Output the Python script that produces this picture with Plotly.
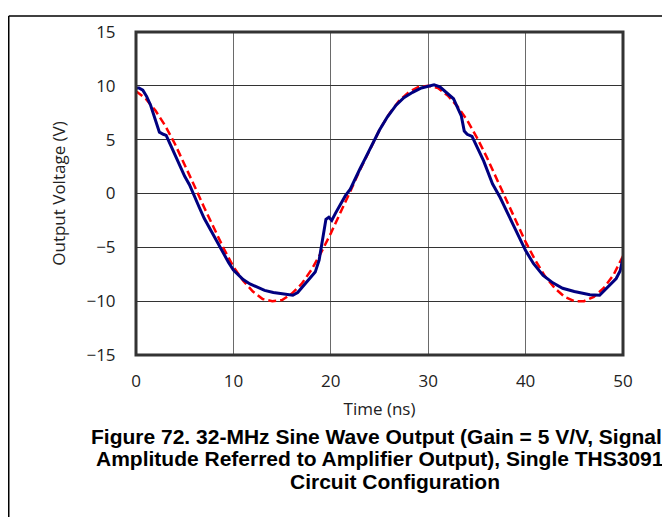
import plotly.graph_objects as go

# Ideal sine (red dashed)
t_ideal = list(range(0, 51))
v_ideal = [9.5, 8.8, 7.7, 6.3, 4.6, 2.7, 0.7, -1.3, -3.2, -5.1,
           -6.8, -8.1, -9.1, -9.8, -10.0, -9.9, -9.3, -8.4, -7.1, -5.5,
           -3.7, -1.8, 0.2, 2.2, 4.1, 5.9, 7.4, 8.6, 9.4, 9.9,
           10.0, 9.8, 9.1, 8.1, 6.8, 5.2, 3.4, 1.4, -0.6, -2.6,
           -4.5, -6.2, -7.7, -8.8, -9.6, -10.0, -10.0, -9.6, -8.8, -7.6,
           -5.8]

# Measured output (blue solid)
t_meas = [0.0, 0.3, 0.7, 1.1, 1.5, 2.0, 2.4, 2.8, 3.1, 3.6, 4.0, 4.5, 5.0, 5.5,
          6.0, 6.5, 7.0, 7.6, 8.3, 9.0, 9.5, 10.0, 10.5, 11.0, 11.7, 12.4,
          13.2, 14.1, 15.0, 16.1, 16.6, 17.1, 17.7, 18.4, 18.8, 19.0, 19.3,
          19.5, 19.8, 20.1, 20.5, 21.1, 21.5, 22.0, 22.5, 23.0, 23.5, 24.3,
          25.0, 25.8, 26.7, 27.5, 28.4, 29.3, 30.0, 30.6, 31.2, 31.8, 32.6,
          33.0, 33.4, 33.7, 34.0, 34.5, 35.0, 35.7, 36.6, 37.4, 38.3, 39.2,
          40.0, 40.8, 41.8, 42.8, 43.8, 45.0, 46.0, 46.6, 47.6, 48.3, 49.3,
          49.7, 50.0]
v_meas = [9.8, 9.8, 9.6, 9.0, 8.2, 6.8, 5.7, 5.5, 5.4, 4.4, 3.6, 2.6, 1.6, 0.8,
          -0.3, -1.3, -2.3, -3.3, -4.4, -5.6, -6.4, -7.1, -7.6, -8.0, -8.4, -8.7,
          -9.0, -9.2, -9.3, -9.45, -9.2, -8.7, -8.1, -7.3, -6.2, -5.0, -3.2,
          -2.4, -2.2, -2.5, -1.8, -0.8, -0.2, 0.4, 1.4, 2.3, 3.2, 4.7,
          5.9, 7.1, 8.2, 8.9, 9.4, 9.8, 9.95, 10.1, 9.9, 9.4, 8.8,
          8.0, 7.2, 5.8, 5.5, 5.3, 4.4, 3.0, 0.9, -0.4, -2.1, -3.8,
          -5.3, -6.5, -7.6, -8.3, -8.8, -9.1, -9.3, -9.4, -9.45, -8.8, -7.9,
          -7.2, -6.0]

x_ticks = [0, 10, 20, 30, 40, 50]
y_ticks = [-15, -10, -5, 0, 5, 10, 15]

caption = [
    "Figure 72. 32-MHz Sine Wave Output (Gain = 5 V/V, Signal",
    "Amplitude Referred to Amplifier Output), Single THS3091",
    "Circuit Configuration",
]

# page body has an 8px margin: figure coords = screen coords - 8
OFF = 8
W, H = 670, 517
L, R, T, B = 128, 55, 17, 170
pw, ph = W - L - R, H - T - B


def px(sx):
    return (sx - OFF - L) / pw


def py(sy):
    return (H - B - (sy - OFF)) / ph


fig = go.Figure()
fig.add_trace(go.Scatter(x=t_ideal, y=v_ideal, mode="lines",
                         line=dict(color="#FF0000", width=2.5, dash="8px,4px"),
                         showlegend=False))
fig.add_trace(go.Scatter(x=t_meas, y=v_meas, mode="lines",
                         line=dict(color="#000080", width=3),
                         showlegend=False))

fnt = "Open Sans"
tickfont = dict(family=fnt, size=17, color="#222")
fig.update_xaxes(range=[0, 50], tickvals=x_ticks, showgrid=True,
                 gridcolor="#6a6a6a", gridwidth=1.2, zeroline=False,
                 showline=False, ticks="outside", ticklen=11,
                 tickcolor="rgba(0,0,0,0)", tickfont=tickfont,
                 title=dict(text="Time (ns)", font=dict(family=fnt, size=17, color="#222"),
                            standoff=11))
fig.update_yaxes(range=[-15, 15], tickvals=y_ticks, showgrid=True,
                 gridcolor="#333", gridwidth=1.2, zeroline=False,
                 showline=False, ticks="outside", ticklen=16,
                 tickcolor="rgba(0,0,0,0)", tickfont=tickfont,
                 title=dict(text="Output Voltage (V)", font=dict(family=fnt, size=17, color="#222"),
                            standoff=16))

shapes = [
    dict(type="rect", xref="paper", yref="paper", x0=0, x1=1, y0=0, y1=1,
         line=dict(color="#333", width=3)),
    dict(type="line", xref="paper", yref="paper", x0=px(8.75), x1=px(700), y0=py(8.75), y1=py(8.75),
         line=dict(color="#000", width=1.5)),
    dict(type="line", xref="paper", yref="paper", x0=px(8.75), x1=px(8.75), y0=py(8.75), y1=py(540),
         line=dict(color="#000", width=1.5)),
]

capfont = dict(family="Liberation Sans", size=21, color="#000")
annotations = [
    dict(text="<b>%s</b>" % caption[0], xref="paper", yref="paper", x=px(376), y=py(438),
         xanchor="center", yanchor="middle", showarrow=False, font=capfont),
    dict(text="<b>%s</b>" % caption[1], xref="paper", yref="paper", x=px(380), y=py(461),
         xanchor="center", yanchor="middle", showarrow=False, font=capfont),
    dict(text="<b>%s</b>" % caption[2], xref="paper", yref="paper", x=px(395), y=py(484),
         xanchor="center", yanchor="middle", showarrow=False, font=capfont),
]

fig.update_layout(width=W, height=H, margin=dict(l=L, r=R, t=T, b=B),
                  paper_bgcolor="white", plot_bgcolor="white",
                  shapes=shapes, annotations=annotations)

fig.write_html("out.html")
